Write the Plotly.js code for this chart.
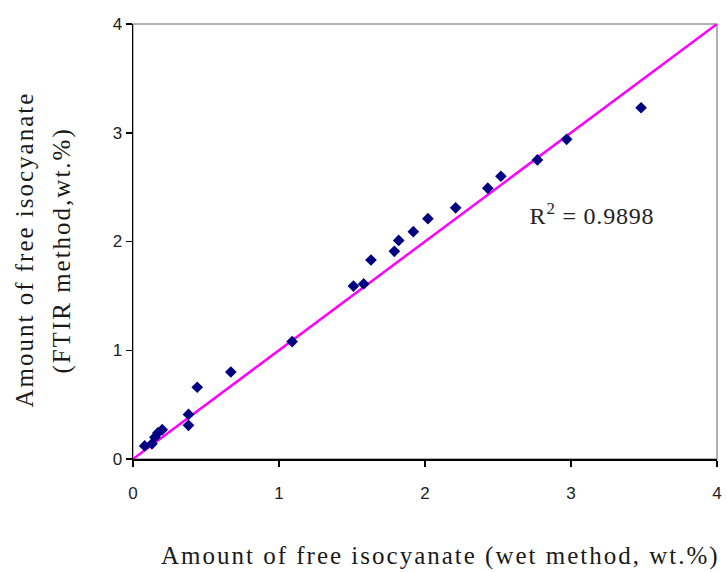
<!DOCTYPE html>
<html>
<head>
<meta charset="utf-8">
<script src="https://cdn.plot.ly/plotly-3.0.1.min.js"></script>
<style>html,body{margin:0;padding:0;background:#fff;}#chart{width:727px;height:572px;}</style>
</head>
<body>
<div id="chart"></div>
<script>
// Measured data: wet method (x) vs FTIR method (y), wt.%
const wetMethod  = [0.08, 0.13, 0.15, 0.17, 0.20, 0.38, 0.38, 0.44, 0.67, 1.09, 1.51, 1.58, 1.63, 1.79, 1.82, 1.92, 2.02, 2.21, 2.43, 2.52, 2.77, 2.97, 3.48];
const ftirMethod = [0.12, 0.14, 0.20, 0.24, 0.27, 0.31, 0.41, 0.66, 0.80, 1.08, 1.59, 1.61, 1.83, 1.91, 2.01, 2.09, 2.21, 2.31, 2.49, 2.60, 2.75, 2.94, 3.23];
// Linear trend line endpoints
const trendX = [0, 4];
const trendY = [0, 4];
const tickVals = [0, 1, 2, 3, 4];
const tickText = ["0", "1", "2", "3", "4"];
const r2Label = "R<sup>2</sup> = 0.9898";
const xTitle = "Amount of free isocyanate (wet method, wt.%)";
const yTitle1 = "Amount of free isocyanate";
const yTitle2 = "(FTIR method,wt.%)";

const traces = [
  {
    x: trendX, y: trendY, type: "scatter", mode: "lines",
    line: {color: "#FF00FF", width: 2.5}, hoverinfo: "skip", showlegend: false
  },
  {
    x: wetMethod, y: ftirMethod, type: "scatter", mode: "markers",
    marker: {symbol: "diamond", size: 9, color: "#000080"}, showlegend: false
  }
];

const serif = "Liberation Serif, Times New Roman, serif";
const titleFont = {family: serif, size: 25, color: "#1a1a1a"};
const layout = {
  width: 727, height: 572,
  margin: {l: 133, r: 10, t: 24, b: 113},
  paper_bgcolor: "#ffffff", plot_bgcolor: "#ffffff",
  showlegend: false,
  font: {family: "Liberation Sans, Arial, sans-serif", size: 16, color: "#000"},
  xaxis: {
    range: [0, 4], tickvals: tickVals, ticktext: tickText,
    showgrid: false, zeroline: false, showline: true, linecolor: "#000", linewidth: 1.5,
    ticks: "outside", ticklen: 6, tickcolor: "#000", tickwidth: 1.5,
    ticklabelstandoff: 12,
    tickfont: {family: "Liberation Sans, Arial, sans-serif", size: 17, color: "#222"}
  },
  yaxis: {
    range: [0, 4], tickvals: tickVals, ticktext: tickText,
    showgrid: false, zeroline: false, showline: true, linecolor: "#000", linewidth: 1.5,
    ticks: "outside", ticklen: 6, tickcolor: "#000", tickwidth: 1.5,
    tickfont: {family: "Liberation Sans, Arial, sans-serif", size: 17, color: "#222"}
  },
  shapes: [
    {type: "rect", xref: "paper", yref: "paper", x0: 0, y0: 0, x1: 1, y1: 1,
     line: {color: "#999999", width: 1.5}, layer: "below"}
  ],
  annotations: [
    {x: 3.144, y: 2.25, xref: "x", yref: "y", text: r2Label, showarrow: false,
     xanchor: "center", yanchor: "middle",
     font: {family: serif, size: 24, color: "#222"}},
    {x: 0.5257, y: -0.2225, xref: "paper", yref: "paper", text: xTitle, showarrow: false,
     xanchor: "center", yanchor: "middle", font: titleFont},
    {x: -0.1866, y: 0.4816, xref: "paper", yref: "paper", text: yTitle1, showarrow: false,
     textangle: -90, xanchor: "center", yanchor: "middle", font: titleFont},
    {x: -0.1216, y: 0.479, xref: "paper", yref: "paper", text: yTitle2, showarrow: false,
     textangle: -90, xanchor: "center", yanchor: "middle", font: titleFont}
  ]
};

const spacing = ["0.8px", "2px", "2px", "2px"];
Plotly.newPlot("chart", traces, layout, {displayModeBar: false, staticPlot: true}).then(function (gd) {
  gd.querySelectorAll(".annotation").forEach(function (g, i) {
    const t = g.querySelector(".annotation-text");
    if (t && spacing[i]) t.style.letterSpacing = spacing[i];
  });
});
</script>
</body>
</html>
